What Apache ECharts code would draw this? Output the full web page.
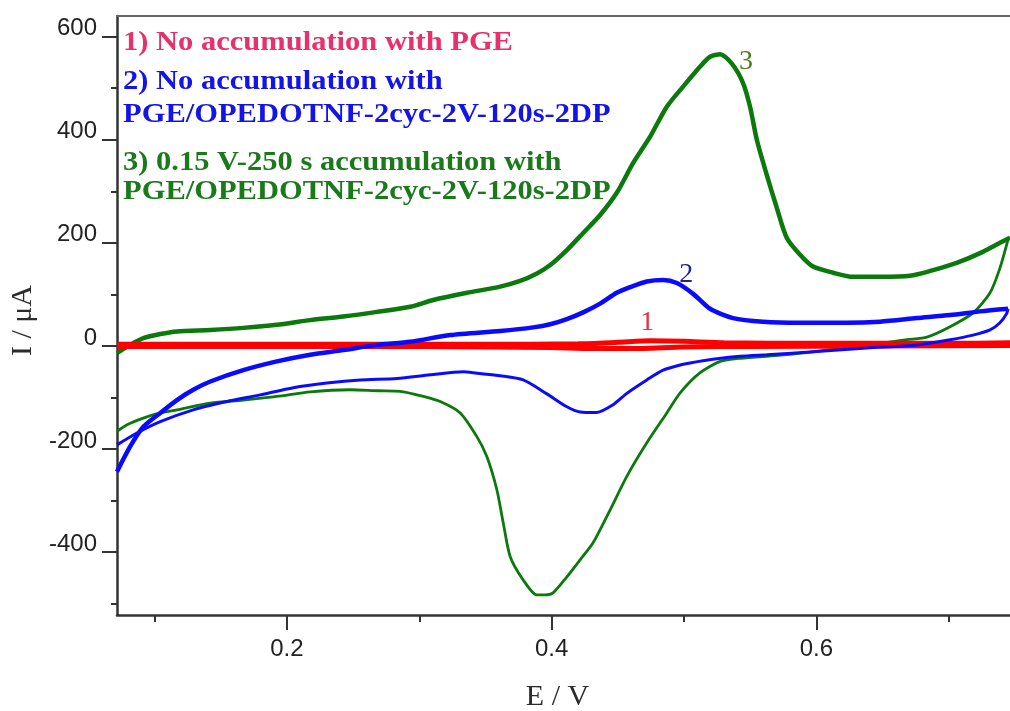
<!DOCTYPE html>
<html>
<head>
<meta charset="utf-8">
<script src="https://cdn.jsdelivr.net/npm/echarts@6/dist/echarts.min.js"></script>
<style>html,body{margin:0;padding:0;background:#fff}#chart{width:1010px;height:711px}</style>
</head>
<body>
<div id="chart"></div>
<script>
// ---- data (E / V, I / µA) ----
const greenForward = [[0.0716,-14],[0.0816,2],[0.0915,15],[0.1043,23],[0.1169,28],[0.1421,31],[0.167,35],[0.1924,41],[0.2176,50],[0.2425,57],[0.268,66],[0.2931,76],[0.3105,89],[0.336,103],[0.3611,115],[0.3762,126],[0.3885,140],[0.3989,157],[0.4115,186],[0.4238,219],[0.4366,254],[0.4492,297],[0.4616,355],[0.4744,406],[0.487,464],[0.4993,503],[0.5122,542],[0.5197,561],[0.5273,566],[0.5363,547],[0.5446,510],[0.5499,464],[0.555,400],[0.5625,332],[0.5701,268],[0.5776,210],[0.5877,177],[0.5975,154],[0.6126,142],[0.6277,134],[0.6481,134],[0.6708,136],[0.6882,147],[0.706,161],[0.7237,180],[0.7387,200],[0.7463,210]];
const greenReverse = [[0.7448,206],[0.7387,151],[0.7312,103],[0.7184,64],[0.701,37],[0.6836,17],[0.6685,12],[0.6307,-1],[0.5779,-17],[0.5424,-24],[0.5273,-30],[0.5122,-52],[0.4971,-91],[0.487,-130],[0.4719,-188],[0.4568,-253],[0.4442,-318],[0.4313,-382],[0.4215,-415],[0.4115,-448],[0.4011,-479],[0.3951,-483],[0.3888,-483],[0.3785,-454],[0.3687,-409],[0.3634,-343],[0.3586,-279],[0.3511,-215],[0.3435,-176],[0.3309,-130],[0.3158,-108],[0.303,-98],[0.2856,-88],[0.269,-87],[0.2478,-85],[0.2176,-89],[0.1924,-98],[0.167,-105],[0.1421,-111],[0.1169,-124],[0.1043,-130],[0.0915,-140],[0.0792,-153],[0.0716,-166]];
const blueForward = [[0.0716,-244],[0.0816,-195],[0.0915,-157],[0.1043,-130],[0.1169,-105],[0.1292,-85],[0.1421,-69],[0.167,-47],[0.1924,-30],[0.2176,-17],[0.2425,-8],[0.268,2],[0.2931,8],[0.3233,21],[0.3611,29],[0.386,36],[0.3989,42],[0.4115,52],[0.4238,65],[0.4366,82],[0.4492,103],[0.4593,114],[0.4719,125],[0.4842,128],[0.4946,122],[0.5069,101],[0.5197,72],[0.5371,54],[0.5597,47],[0.5877,45],[0.623,45],[0.6481,47],[0.6758,54],[0.701,60],[0.7237,67],[0.7448,72]];
const blueReverse = [[0.7448,72],[0.7438,63],[0.7387,45],[0.7312,31],[0.7184,21],[0.701,12],[0.6758,2],[0.6381,-4],[0.6003,-11],[0.5625,-17],[0.5424,-20],[0.5248,-25],[0.5046,-33],[0.4971,-37],[0.4842,-47],[0.4719,-66],[0.4568,-92],[0.4465,-114],[0.4341,-129],[0.4215,-128],[0.4115,-118],[0.3964,-93],[0.3785,-66],[0.3611,-58],[0.3435,-53],[0.3332,-50],[0.3082,-56],[0.2831,-63],[0.2554,-66],[0.2302,-72],[0.2048,-81],[0.1798,-95],[0.1547,-108],[0.1292,-124],[0.1043,-147],[0.0867,-169],[0.0716,-192]];
const redForward = [[0.0716,3],[0.15,3],[0.25,3],[0.35,3],[0.42,4],[0.45,7],[0.475,10],[0.5,9],[0.53,6],[0.6,5],[0.7,5],[0.7463,6]];
const redReverse = [[0.7463,1],[0.65,0],[0.55,-1],[0.5,-2],[0.46,-5],[0.43,-5],[0.4,-3],[0.35,-2],[0.25,-1],[0.0716,-1]];

const curveLabels = ['1','2','3'];
const curveLabelAt = [[0.4722,45],[0.5016,138],[0.5469,551]];
const legendLines = [
  '1) No accumulation with PGE',
  '2) No accumulation with',
  'PGE/OPEDOTNF-2cyc-2V-120s-2DP',
  '3) 0.15 V-250 s accumulation with',
  'PGE/OPEDOTNF-2cyc-2V-120s-2DP'
];
const xMajorTicks = [0.2, 0.4, 0.6];
const xMinorTicks = [0.1, 0.3, 0.5, 0.7];
const yMajorTicks = [-400, -200, 0, 200, 400, 600];
const yMinorTicks = [-500, -300, -100, 100, 300, 500];
const xRange = [0.0716, 0.7463];
const yRange = [-522, 640];

// ---- styles ----
const RED = '#ff0000', BLUE = '#0a0aff', GREEN = '#0b790b';
const legendColors = ['#e8306a', '#1414e8', '#1414e8', '#1a7a1a', '#1a7a1a'];
const legendY = [42.5, 81.5, 115, 162.5, 191.5];
const curveLabelColors = ['#e83040', '#22228a', '#4d7a1a'];
const axisColor = '#333';

const chart = echarts.init(document.getElementById('chart'), null, {renderer: 'canvas'});

function line(data, color, width, z, mark) {
  const s = {
    type: 'line', data: data, showSymbol: false, symbol: 'none', smooth: 0.25,
    lineStyle: {color: color, width: width}, itemStyle: {color: color}, z: z,
    xAxisIndex: 0, yAxisIndex: 0, animation: false
  };
  if (mark !== undefined) {
    s.markPoint = {
      symbol: 'circle', symbolSize: 1, itemStyle: {color: 'rgba(0,0,0,0)'}, animation: false,
      data: [{coord: curveLabelAt[mark], value: curveLabels[mark],
        label: {show: true, position: 'inside', formatter: curveLabels[mark],
          fontFamily: 'Liberation Serif', fontSize: 28, color: curveLabelColors[mark]}}]
    };
  }
  return s;
}

const option = {
  backgroundColor: '#fff',
  animation: false,
  grid: {left: 117, right: 0, top: 16, bottom: 96, containLabel: false, outerBoundsMode: 'none'},
  xAxis: [
    {type: 'value', min: xRange[0], max: xRange[1], position: 'bottom',
     axisLine: {show: true, onZero: false, lineStyle: {color: axisColor, width: 2.5}},
     axisTick: {show: true, customValues: xMajorTicks, length: 15, lineStyle: {color: axisColor, width: 2}},
     axisLabel: {show: true, customValues: xMajorTicks, margin: 22, fontSize: 24, fontFamily: 'Liberation Sans', color: '#222',
                 formatter: v => v.toFixed(1)},
     splitLine: {show: false},
     name: 'E / V', nameLocation: 'middle', nameGap: 67,
     nameTextStyle: {fontFamily: 'Liberation Serif', fontSize: 30, color: '#2b2b2b', padding: [0, 12, 0, 0]}},
    {type: 'value', min: xRange[0], max: xRange[1], position: 'bottom',
     axisLine: {show: false, onZero: false},
     axisTick: {show: true, customValues: xMinorTicks, length: 7, lineStyle: {color: axisColor, width: 2}},
     axisLabel: {show: false}, splitLine: {show: false}},
    {type: 'value', min: xRange[0], max: xRange[1], position: 'top',
     axisLine: {show: true, onZero: false, lineStyle: {color: '#666', width: 2}},
     axisTick: {show: false}, axisLabel: {show: false}, splitLine: {show: false}}
  ],
  yAxis: [
    {type: 'value', min: yRange[0], max: yRange[1], position: 'left',
     axisLine: {show: true, onZero: false, lineStyle: {color: axisColor, width: 2.5}},
     axisTick: {show: true, customValues: yMajorTicks, length: 15, lineStyle: {color: axisColor, width: 2}},
     axisLabel: {show: true, customValues: yMajorTicks, margin: 20, fontSize: 24, fontFamily: 'Liberation Sans', color: '#222',
                 verticalAlign: 'bottom', lineHeight: 16},
     splitLine: {show: false},
     name: 'I / μA', nameLocation: 'middle', nameGap: 58, nameRotate: 90,
     nameTextStyle: {fontFamily: 'Liberation Serif', fontSize: 30, color: '#2b2b2b', padding: [0, 10, 0, 0]}},
    {type: 'value', min: yRange[0], max: yRange[1], position: 'left',
     axisLine: {show: false, onZero: false},
     axisTick: {show: true, customValues: yMinorTicks, length: 6, lineStyle: {color: axisColor, width: 2}},
     axisLabel: {show: false}, splitLine: {show: false}}
  ],
  graphic: legendLines.map((t, i) => ({
    type: 'text', x: 123, y: legendY[i], scaleX: 1.09, z: 100,
    style: {text: t, x: 0, y: 0, verticalAlign: 'middle', align: 'left',
            font: 'bold 28px "Liberation Serif"', fill: legendColors[i]}
  })),
  series: [
    line(greenForward, GREEN, 4.5, 2, 2),
    line(greenReverse, GREEN, 2.8, 2),
    line(redForward, RED, 5, 3, 0),
    line(redReverse, RED, 5, 3),
    line(blueForward, BLUE, 4.5, 4, 1),
    line(blueReverse, BLUE, 3, 4)
  ]
};
chart.setOption(option);
</script>
</body>
</html>
